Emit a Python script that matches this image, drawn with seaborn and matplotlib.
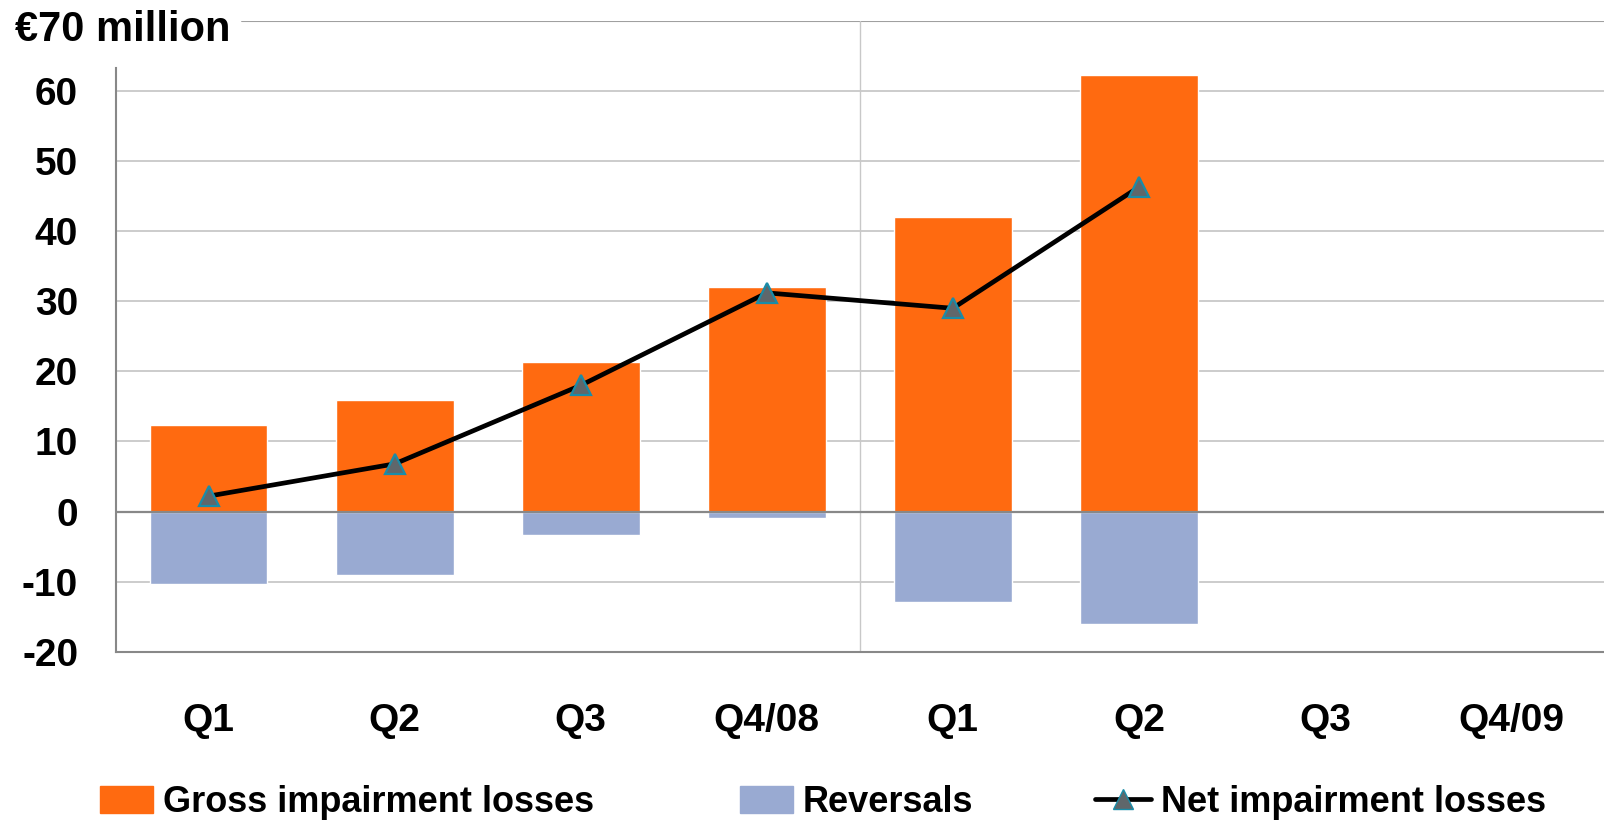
import pandas as pd
import seaborn as sns
import matplotlib.pyplot as plt
from matplotlib.patches import Patch
from matplotlib.lines import Line2D

# quarters 2008 / 2009 (Q3 and Q4/09 have no data yet)
quarters = ["Q1_08", "Q2_08", "Q3_08", "Q4_08", "Q1_09", "Q2_09", "Q3_09", "Q4_09"]
tick_labels = ["Q1", "Q2", "Q3", "Q4/08", "Q1", "Q2", "Q3", "Q4/09"]
gross = [12.3, 15.9, 21.3, 32.0, 42.0, 62.3, None, None]
reversals = [-10.3, -9.1, -3.3, -0.9, -12.9, -16.1, None, None]
net = [2.2, 6.8, 18.0, 31.2, 29.0, 46.3, None, None]
yticks = [-20, -10, 0, 10, 20, 30, 40, 50, 60]

ORANGE = "#FF6A10"
BLUE = "#99AAD2"
GRID = "#c8c8c8"
AXIS = "#888888"
MARKER_FACE = "#5f676b"
MARKER_EDGE = "#1a8ca8"

def main():
    sns.set_theme(style="white")
    plt.rcParams['font.family'] = ['Liberation Sans', 'DejaVu Sans']
    plt.rcParams['font.weight'] = 'bold'
    plt.rcParams['text.color'] = 'black'
    plt.rcParams['xtick.color'] = 'black'
    plt.rcParams['ytick.color'] = 'black'

    df = pd.DataFrame({"quarter": quarters, "gross": gross,
                       "reversals": reversals, "net": net})

    fig = plt.figure(figsize=(16.04, 8.22), dpi=100)
    ax = fig.add_axes([0.0721, 0.2072, 0.9279, 0.7673])

    # grid lines first, behind the bars
    for y in yticks:
        if y == 0:
            continue
        ax.axhline(y, color=GRID, lw=1.3, zorder=0)
    ax.axhline(70, xmin=0.085, color="#a0a0a0", lw=1.5, zorder=0)
    ax.axvline(3.5, color=GRID, lw=1.0, zorder=0)

    sns.barplot(df, x="quarter", y="gross", order=quarters, color=ORANGE,
                saturation=1, width=0.632, errorbar=None, ax=ax, zorder=2)
    sns.barplot(df, x="quarter", y="reversals", order=quarters, color=BLUE,
                saturation=1, width=0.632, errorbar=None, ax=ax, zorder=2)
    sns.pointplot(df, x="quarter", y="net", order=quarters, color="black",
                  markers="^", errorbar=None, ax=ax, zorder=4)
    ln = ax.lines[-1]
    ln.set_linewidth(3.4)
    ln.set_markersize(15)
    ln.set_markerfacecolor(MARKER_FACE)
    ln.set_markeredgecolor(MARKER_EDGE)
    ln.set_markeredgewidth(1.6)

    ax.axhline(0, color=AXIS, lw=1.6, zorder=3)

    ax.set_xlim(-0.5, 7.5)
    ax.set_ylim(-20, 70)
    ax.set_yticks(yticks)
    ax.set_yticklabels([str(v) for v in yticks], fontsize=28, fontweight='bold')
    ax.set_xticks(range(len(quarters)))
    ax.set_xticklabels(tick_labels, fontsize=28, fontweight='bold')
    ax.tick_params(axis='y', length=0, pad=27)
    ax.tick_params(axis='x', length=0, pad=37)
    ax.set_xlabel("")
    ax.set_ylabel("")

    for s in ["top", "right"]:
        ax.spines[s].set_visible(False)
    ax.spines["left"].set_color(AXIS)
    ax.spines["left"].set_linewidth(1.5)
    ax.spines["left"].set_bounds(-20, 63.3)
    ax.spines["bottom"].set_color(AXIS)
    ax.spines["bottom"].set_linewidth(1.5)

    fig.text(0.0094, 0.964, "€70 million", fontsize=30, fontweight='bold',
             va='center', ha='left')

    # one legend per entry so each sits where the reference puts it
    entries = [
        (Patch(color=ORANGE), "Gross impairment losses", 0.0624, 1.47),
        (Patch(color=BLUE), "Reversals", 0.4611, 1.47),
        (Line2D([], [], color="black", lw=3.4, marker="^", markersize=15,
                markerfacecolor=MARKER_FACE, markeredgecolor=MARKER_EDGE),
         "Net impairment losses", 0.6824, 1.55),
    ]
    for handle, label, x0, hl in entries:
        fig.legend([handle], [label], loc="center left", bbox_to_anchor=(x0, 0.0235),
                   frameon=False, handlelength=hl, handleheight=0.77,
                   handletextpad=0.28, borderpad=0, borderaxespad=0,
                   prop={'weight': 'bold', 'size': 26})

    plt.savefig("out.png", dpi=100)
    plt.close()


if __name__ == "__main__":
    main()
